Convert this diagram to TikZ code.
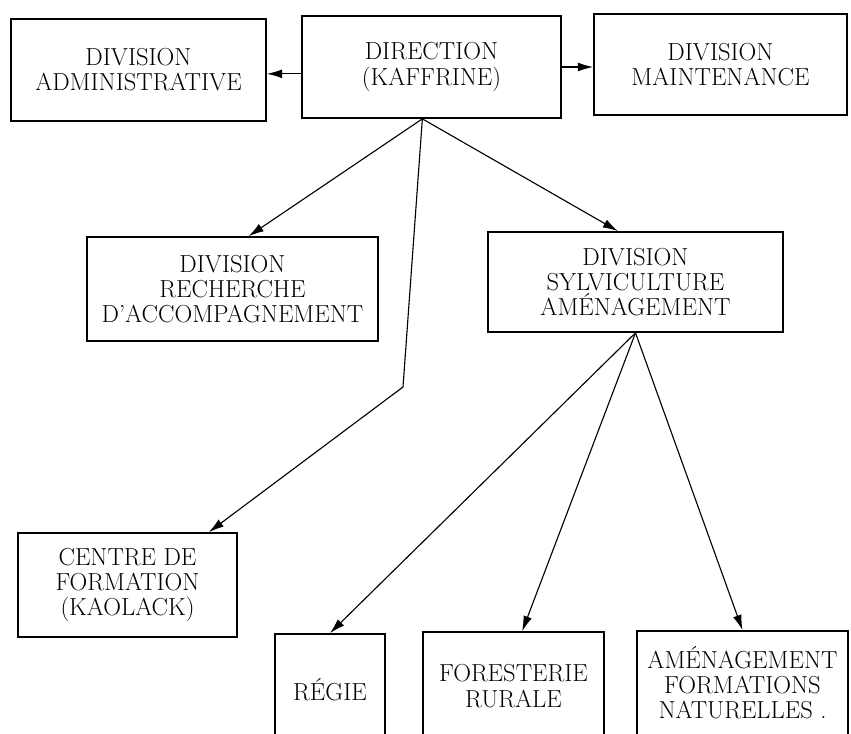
\documentclass[tikz,border=0pt]{standalone}
\usepackage{fontspec}
\usetikzlibrary{positioning,arrows.meta,calc}
\newcommand{\pxu}{0.025cm}
\tikzset{
  dept/.style = {draw, line width=1.2pt, align=center, inner sep=3pt,
                 font=\fontsize{17.5}{17.9}\selectfont},
  link/.style = {-{Latex[length=3.8mm,width=2.2mm]}, line width=0.8pt}
}

\begin{document}
\begin{tikzpicture}[x=\pxu, y=-\pxu]
  \clip (0,0) rectangle (851,733);

  % top row
  \node[dept, minimum width=255*\pxu, minimum height=102*\pxu] (admin)  at (138.5,70)  {DIVISION\\ADMINISTRATIVE};
  \node[dept, minimum width=259*\pxu, minimum height=102*\pxu] (dir)    at (431.5,67)  {DIRECTION\\(KAFFRINE)};
  \node[dept, minimum width=253*\pxu, minimum height=101*\pxu] (maint)  at (720.5,64.5) {DIVISION\\MAINTENANCE};

  % divisions
  \node[dept, minimum width=291*\pxu, minimum height=104*\pxu] (rech)   at (232.5,289) {DIVISION\\RECHERCHE\\D'ACCOMPAGNEMENT};
  \node[dept, minimum width=295*\pxu, minimum height=100*\pxu] (sylv)   at (635.5,282) {DIVISION\\SYLVICULTURE\\AMÉNAGEMENT};
  \node[dept, minimum width=219*\pxu, minimum height=104*\pxu] (centre) at (127.5,585) {CENTRE DE\\FORMATION\\(KAOLACK)};

  % bottom row (cut by the page edge)
  \node[dept, minimum width=110*\pxu, minimum height=111*\pxu] (regie)  at (330,689.5) {RÉGIE};
  \node[dept, minimum width=181*\pxu, minimum height=108*\pxu] (forest) at (513.5,686) {FORESTERIE\\RURALE};
  \node[dept, minimum width=211*\pxu, minimum height=104*\pxu] (amen)   at (742.5,683) {AMÉNAGEMENT\\FORMATIONS\\NATURELLES .};

  \coordinate (bend) at (403,387);

  \draw[link] (dir.183) -- (dir.183 -| admin.east);
  \draw[link] (dir.east) -- (dir.east -| maint.west);
  \draw[link] (dir.260) -- (rech.73);
  \draw[link] (dir.260) -- (sylv.109);
  \draw[link] (dir.260) -- (bend) -- (centre.33);

  \draw[link] (sylv.south) -- (regie.north);
  \draw[link] (sylv.south) -- (forest.81);
  \draw[link] (sylv.south) -- (amen.north);
\end{tikzpicture}
\end{document}
